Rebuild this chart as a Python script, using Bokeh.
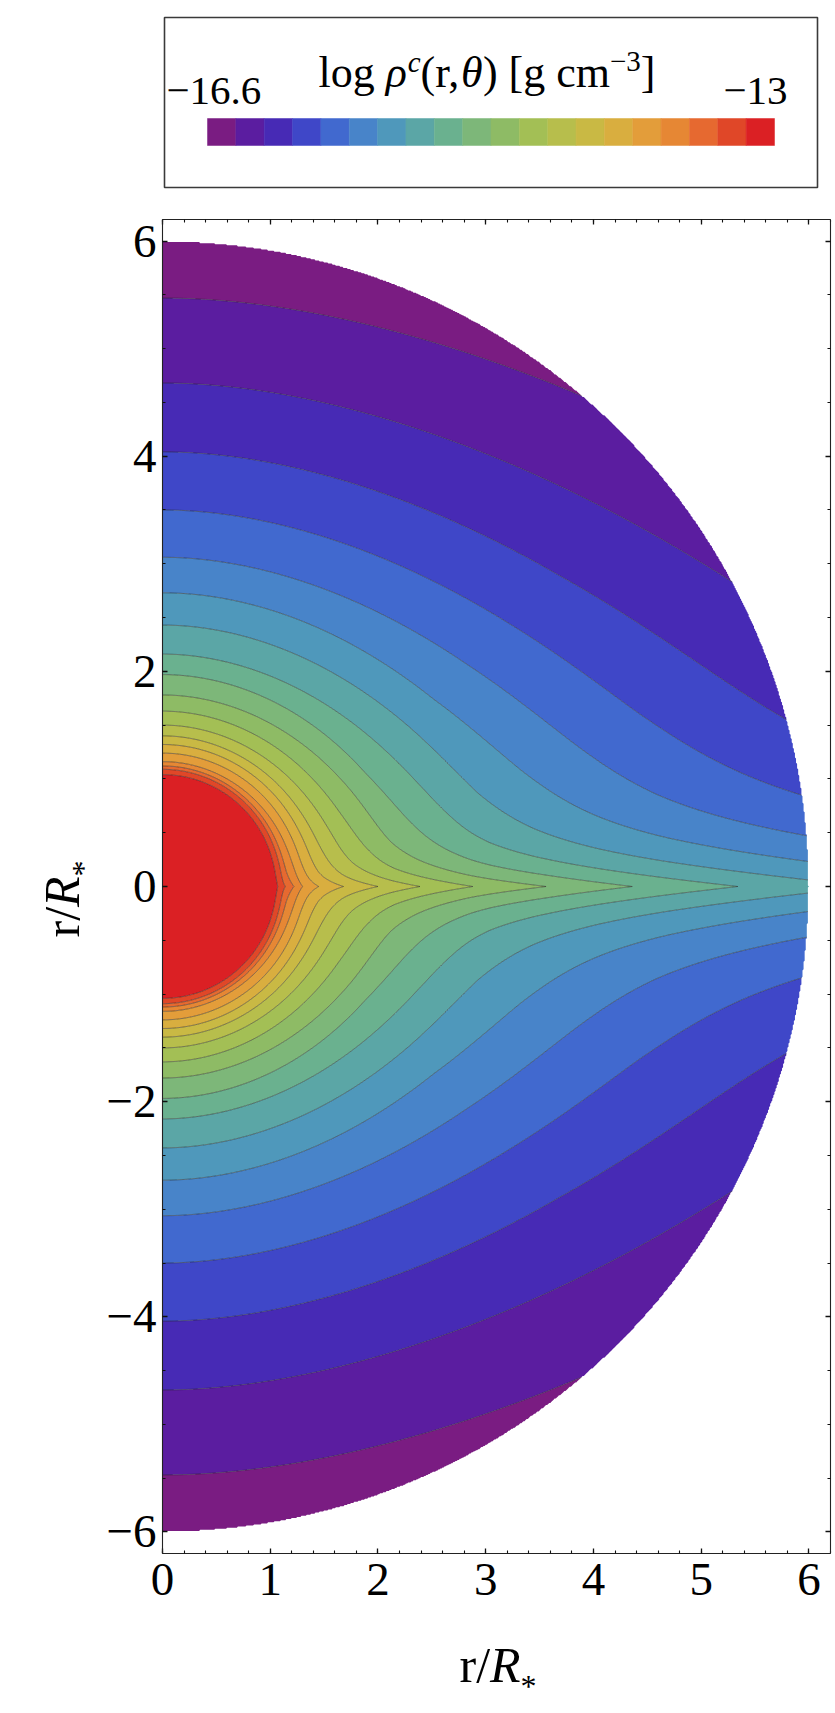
import numpy as np
from bokeh.plotting import figure
from bokeh.models import Range1d, FixedTicker, LinearAxis, Label
from bokeh.embed import file_html
from bokeh.resources import INLINE

# ---------------- data ----------------
legend_min = -16.6
legend_max = -13.0
legend_min_label = "−16.6"
legend_max_label = "−13"
band_colors = ["#7a1c82", "#5b1da0", "#472ab5", "#3f47c8", "#4169cf",
               "#4884c9", "#4f98bb", "#5ba6a6", "#6ab18f", "#7db779",
               "#8ebb65", "#a3bf55", "#b7be4c", "#c9b944", "#d9ae3f",
               "#e39d3a", "#e68734", "#e66930", "#e04728", "#db2024"]
# r/R* where contour boundaries 1..19 cross the polar axis
pole_radius = [5.47, 4.68, 4.04, 3.50, 3.06, 2.73, 2.43, 2.16, 1.97, 1.78,
               1.63, 1.50, 1.40, 1.32, 1.24, 1.16, 1.12, 1.09, 1.04]
# r/R* where contour boundaries 8..19 cross the equator
equator_first_boundary = 8
equator_radius = [5.34, 4.36, 3.56, 2.88, 2.39, 2.00, 1.68, 1.45, 1.30,
                  1.22, 1.14, 1.07]
star_radius = 1.0
outer_radius = 6.0
# angular shape of the equatorial enhancement
narrow_weight = 0.5
narrow_width_deg = 5.0
broad_power = 1.25

x_major = [0, 1, 2, 3, 4, 5, 6]
y_major = [-6, -4, -2, 0, 2, 4, 6]
x_minor_step = 0.2
y_minor_step = 0.5
x_lim = (0.0, 6.2)
y_lim = (-6.2, 6.2)

# ---------------- field ----------------
bounds = np.linspace(legend_min, legend_max, len(band_colors) + 1)
boundaries = bounds[1:-1]


def log_profile(r, radii, levels):
    lr = np.log(np.asarray(radii, float))[::-1]
    lv = np.asarray(levels, float)[::-1]
    t = np.log(r)
    out = np.interp(t, lr, lv)
    s0 = (lv[1] - lv[0]) / (lr[1] - lr[0])
    s1 = (lv[-1] - lv[-2]) / (lr[-1] - lr[-2])
    out = np.where(t < lr[0], lv[0] + s0 * (t - lr[0]), out)
    out = np.where(t > lr[-1], lv[-1] + s1 * (t - lr[-1]), out)
    return out


xs = np.linspace(x_lim[0], x_lim[1], 621)
ys = np.linspace(y_lim[0], y_lim[1], 1241)
X, Y = np.meshgrid(xs, ys)
R = np.maximum(np.hypot(X, Y), 1e-3)
lat = np.arctan2(np.abs(Y), X)
Lp = log_profile(R, pole_radius, boundaries)
Le = log_profile(R, equator_radius, boundaries[equator_first_boundary - 1:])
f = (narrow_weight * np.exp(-np.degrees(lat) / narrow_width_deg)
     + (1 - narrow_weight) * (1 - np.sin(lat)) ** broad_power)
Z = Lp + (Le - Lp) * f
Z = np.where(R < star_radius, legend_max + 1.0, Z)
lo, hi = legend_min - 5.0, legend_max + 5.0
Z = np.clip(Z, lo + 0.01, hi - 0.01)
Z = np.where(R > outer_radius, np.nan, Z)
fill_levels = [lo] + [float(b) for b in boundaries] + [hi]

# ---------------- page layout (pixels) ----------------
FONT = "Liberation Serif"
W, H = 833, 1708
frame_left, frame_right, frame_top, frame_bottom = 162, 830, 219, 1553
ppx = (frame_right - frame_left) / (x_lim[1] - x_lim[0])
ppy = (frame_bottom - frame_top) / (y_lim[1] - y_lim[0])
y_zero_px = frame_top + y_lim[1] * ppy


def to_data(px, py):
    return (px - frame_left) / ppx + x_lim[0], (y_zero_px - py) / ppy


x0d, y1d = to_data(0, 0)
x1d, y0d = to_data(W, H)

p = figure(width=W, height=H, x_range=Range1d(x0d, x1d), y_range=Range1d(y0d, y1d),
           output_backend="svg", toolbar_location=None,
           x_axis_location=None, y_axis_location=None,
           min_border_left=0, min_border_right=0, min_border_top=0,
           min_border_bottom=0, outline_line_color=None)
p.grid.visible = False

p.contour(X, Y, Z, levels=fill_levels, fill_color=band_colors,
          line_color="#2a2a2a", line_alpha=0.6, line_width=0.9)

# ---------------- axes (frame) ----------------
x_minor = [round(v, 2) for v in np.arange(x_lim[0], x_lim[1] + 1e-9, x_minor_step)]
y_minor = [round(v, 2) for v in np.arange(-6.0, 6.0 + 1e-9, y_minor_step)]


def make_axis(ticks, minor, loc, bnds, show, standoff=0):
    ax = LinearAxis(fixed_location=loc, bounds=bnds,
                    ticker=FixedTicker(ticks=ticks, minor_ticks=minor))
    ax.axis_line_color = "#222222"
    ax.axis_line_width = 1.1
    ax.major_tick_line_color = "#111111"
    ax.minor_tick_line_color = "#111111"
    ax.major_tick_line_width = 1.3
    ax.minor_tick_line_width = 1.1
    ax.major_tick_in = 5
    ax.major_tick_out = 0
    ax.minor_tick_in = 3
    ax.minor_tick_out = 0
    ax.major_label_standoff = standoff
    if show:
        ax.major_label_text_font = FONT
        ax.major_label_text_font_size = "47px"
        ax.major_label_text_color = "black"
        ax.major_label_overrides = {t: ("−%d" % -t if t < 0 else "%d" % t) for t in ticks}
    else:
        ax.major_label_text_font_size = "1px"
        ax.major_label_overrides = {t: "" for t in ticks}
    return ax


p.add_layout(make_axis(x_major, x_minor, y_lim[0], x_lim, True, 10), "below")
p.add_layout(make_axis(y_major, y_minor, x_lim[0], y_lim, True, 6), "left")
p.add_layout(make_axis(x_major, x_minor, y_lim[1], x_lim, False), "above")
p.add_layout(make_axis(y_major, y_minor, x_lim[1], y_lim, False), "right")

# ---------------- text helper (baseline given in page pixels) ----------------
EM = {'l': .278, 'o': .5, 'g': .5, ' ': .25, 'ρ': .5, 'c': .444, '(': .333,
      'r': .333, ',': .25, 'θ': .5, ')': .333, '[': .333, 'm': .778,
      '−': .564, '3': .5, ']': .333, '/': .278, 'R': .611, '*': .5,
      '1': .5, '6': .5, '.': .25}
MID = 0.3375  # distance baseline -> middle of the font box, in em


def place(pieces, x0, y0, angle=0.0):
    adv = 0.0
    for text, size, style, rise in pieces:
        if angle == 0.0:
            px, py = x0 + adv, y0 - rise - MID * size
        else:
            px, py = x0 - rise - MID * size, y0 - adv
        dx, dy = to_data(px, py)
        p.add_layout(Label(x=dx, y=dy, text=text, text_font=FONT,
                           text_font_size=f"{size}px", text_font_style=style,
                           text_color="black", text_align="left",
                           text_baseline="middle", angle=angle))
        adv += sum(EM.get(ch, .5) for ch in text) * size


# ---------------- legend box with colour bar ----------------
bl, bt = to_data(164, 17)
br, bb = to_data(817, 187)
p.quad(left=[bl], right=[br], top=[bt], bottom=[bb], fill_alpha=0,
       line_color="#3a3a3a", line_width=1.6)
bar_l, bar_r, bar_t, bar_b = 207, 774, 118, 145
n = len(band_colors)
cw = (bar_r - bar_l) / n
p.quad(left=[to_data(bar_l + i * cw, 0)[0] for i in range(n)],
       right=[to_data(bar_l + (i + 1) * cw, 0)[0] for i in range(n)],
       top=[to_data(0, bar_t)[1]] * n, bottom=[to_data(0, bar_b)[1]] * n,
       fill_color=band_colors, line_color=band_colors, line_width=0.5)
place([(legend_min_label, 41, "normal", 0)], 166, 104)
place([(legend_max_label, 41, "normal", 0)], 723, 104)
place([("log ", 44, "normal", 0), ("ρ", 44, "italic", 0),
       ("c", 29, "italic", 16), ("(r,", 44, "normal", 0),
       ("θ", 44, "italic", 0), (") [g cm", 44, "normal", 0),
       ("−3", 29, "normal", 16), ("]", 44, "normal", 0)], 318, 87)

# ---------------- axis titles ----------------
axis_pieces = [("r/", 50, "normal", 0), ("R", 50, "italic", 0), ("*", 32, "normal", -15)]
place(axis_pieces, 459, 1681)
place(axis_pieces, 78, 937, angle=np.pi / 2)

open("out.html", "w").write(file_html(p, INLINE))
